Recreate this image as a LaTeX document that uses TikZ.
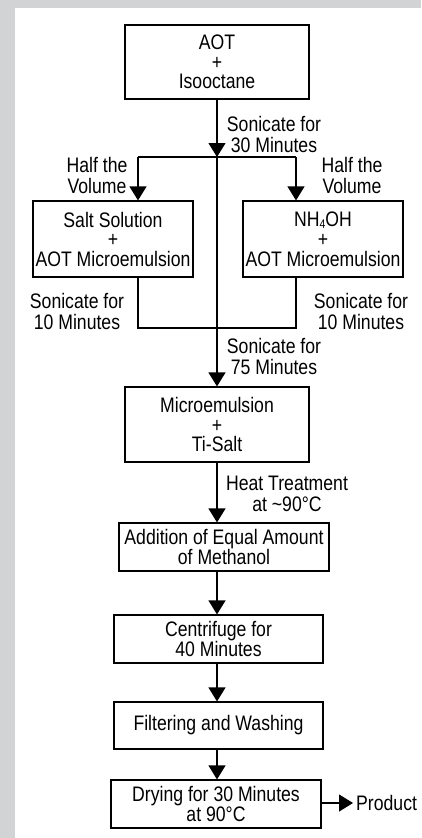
\documentclass[tikz,border=0pt]{standalone}
\usepackage{fontspec}
\setmainfont[FakeStretch=0.84]{Liberation Sans}
\usetikzlibrary{arrows.meta}
\definecolor{panelgray}{HTML}{D1D3D4}
\newcommand{\subfour}{\raisebox{-0.2ex}{\fontsize{12.5}{12.5}\selectfont 4}}
\tikzset{
  box/.style={draw=black, line width=1.2pt, inner sep=0pt, align=center,
    font=\fontsize{21}{19.5}\selectfont},
  lbl/.style={inner sep=0pt, align=center, font=\fontsize{21}{21}\selectfont},
  conn/.style={line width=1.2pt},
  arr/.style={line width=1.2pt, -{Triangle[width=17pt,length=14pt]}},
}
\begin{document}
\begin{tikzpicture}[x=1pt,y=-1pt]
\fill[panelgray] (0,0) rectangle (421,838);
\fill[white] (15,8) rectangle (421,838);
\useasboundingbox (0,0) rectangle (421,838);

\node[box, minimum width=184pt, minimum height=74pt] (top) at (217,62) {AOT\\+\\Isooctane};
\node[box, minimum width=160pt, minimum height=76pt] (left) at (113,239) {Salt Solution\\+\\AOT Microemulsion};
\node[box, minimum width=160pt, minimum height=76pt] (right) at (323,239) {NH\subfour OH\\[1pt]+\\AOT Microemulsion};
\node[box, minimum width=184pt, minimum height=75pt] (micro) at (217,424.5) {Microemulsion\\+\\Ti-Salt};
\node[box, minimum width=210pt, minimum height=48pt] (add) at (224,547) {Addition of Equal Amount\\of Methanol};
\node[box, minimum width=209pt, minimum height=48pt] (cent) at (218.5,639) {Centrifuge for\\40 Minutes};
\node[box, minimum width=209pt, minimum height=47pt] (filt) at (218.5,725.5) {Filtering and Washing};
\node[box, minimum width=210pt, minimum height=48pt] (dry) at (216,804) {Drying for 30 Minutes\\at 90°C};
\node[lbl, anchor=west] (prod) at (356,803) {Product};

\node[lbl] (s30) at (274,134) {Sonicate for\\30 Minutes};
\node[lbl] (halfL) at (97,175) {Half the\\Volume};
\node[lbl] (halfR) at (352,175) {Half the\\Volume};
\node[lbl] (s10L) at (77,311) {Sonicate for\\10 Minutes};
\node[lbl] (s10R) at (361,311) {Sonicate for\\10 Minutes};
\node[lbl] (s75) at (274,356) {Sonicate for\\75 Minutes};
\node[lbl] (heat) at (287,494) {Heat Treatment\\at \textasciitilde 90°C};

\coordinate (br) at (217,157);
\coordinate (brL) at (138,157);
\coordinate (brR) at (296,157);
\coordinate (jn) at (217,328);
\coordinate (prodtip) at (353,803);

\draw[arr] (top.south -| br) -- (br);
\draw[conn] (brL) -- (brR);
\draw[arr] (brL) -- (brL |- left.north);
\draw[arr] (brR) -- (brR |- right.north);
\draw[arr] (br) -- (br |- micro.north);
\draw[conn] (left.south -| brL) |- (jn) -| (right.south -| brR);
\draw[arr] (micro.south -| br) -- (br |- add.north);
\draw[arr] (add.south -| br) -- (br |- cent.north);
\draw[arr] (cent.south -| br) -- (br |- filt.north);
\draw[arr] (filt.south -| br) -- (br |- dry.north);
\draw[arr] (dry.east |- prodtip) -- (prodtip);
\end{tikzpicture}
\end{document}
